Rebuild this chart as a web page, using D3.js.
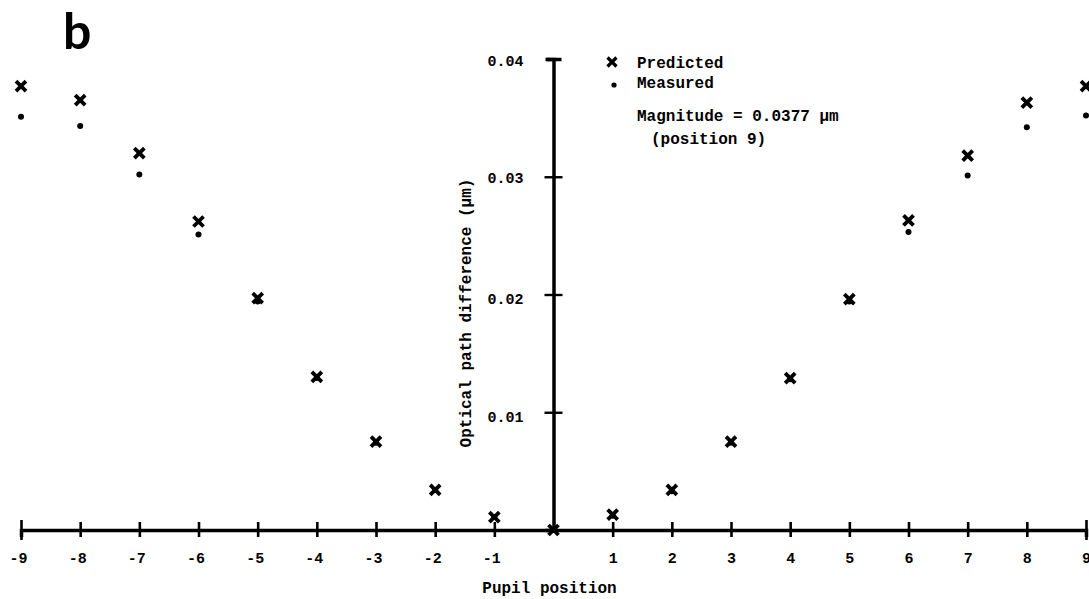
<!DOCTYPE html>
<html>
<head>
<meta charset="utf-8">
<script src="https://cdn.jsdelivr.net/npm/d3@7"></script>
<style>
  html, body { margin: 0; padding: 0; background: #fff; }
  svg { display: block; }
  text { font-family: "Liberation Mono", "DejaVu Sans Mono", monospace; font-weight: bold; fill: #000; }
</style>
</head>
<body>
<svg id="chart" width="1089" height="599"></svg>
<script>
// Pupil positions across the aperture
const positions = [-9, -8, -7, -6, -5, -4, -3, -2, -1, 0, 1, 2, 3, 4, 5, 6, 7, 8, 9];
// Optical path difference (µm), predicted vs measured
const predicted = [0.0377, 0.0365, 0.0320, 0.0262, 0.0197, 0.0130, 0.0075, 0.0034, 0.0011, 0,
                   0.0013, 0.0034, 0.0075, 0.0129, 0.0196, 0.0263, 0.0318, 0.0363, 0.0377];
const measured  = [0.0351, 0.0343, 0.0302, 0.0251, 0.0194, 0.0129, 0.0074, 0.0034, 0.0011, 0,
                   0.0012, 0.0033, 0.0074, 0.0128, 0.0194, 0.0253, 0.0301, 0.0342, 0.0352];
const xTickValues = [-9, -8, -7, -6, -5, -4, -3, -2, -1, 1, 2, 3, 4, 5, 6, 7, 8, 9];
const yTickValues = [0.01, 0.02, 0.03, 0.04];
const yTickLabels = ["0.01", "0.02", "0.03", "0.04"];
const seriesNames = ["Predicted", "Measured"];
const magnitudePosition = 9;

const svg = d3.select("#chart");
svg.append("rect").attr("width", 1089).attr("height", 599).attr("fill", "#fff");

const x = d3.scaleLinear().domain([-9, 9]).range([21, 1086]);
const y = d3.scaleLinear().domain([0, 0.04]).range([530, 59]);

// Panel letter
svg.append("text")
  .attr("x", 63).attr("y", 49)
  .style("font-family", "Lato, 'Open Sans', sans-serif")
  .style("font-weight", "bold")
  .style("font-size", "50px")
  .text("b");

// Horizontal axis
const xAxis = d3.axisBottom(x)
  .tickValues(xTickValues)
  .tickFormat(d => d)
  .tickSizeOuter(0)
  .tickSize(7);
const gx = svg.append("g").attr("transform", `translate(0,${y(0)})`).call(xAxis);
gx.select(".domain").attr("stroke", "#000").attr("stroke-width", 3.5);
gx.selectAll(".tick line")
  .attr("stroke", "#000")
  .attr("stroke-width", 2.6)
  .attr("y1", d => Math.abs(d) === 9 ? -10 : -8)
  .attr("y2", d => Math.abs(d) === 9 ? 10 : 7);
gx.selectAll(".tick text")
  .attr("dy", 0)
  .attr("y", 33)
  .attr("dx", d => d < 0 ? -3 : 0)
  .style("font-size", "15px")
  .style("font-family", "'Liberation Mono', monospace")
  .style("font-weight", "bold")
  .attr("fill", "#000");

// Vertical axis through the pupil centre
const yAxis = d3.axisLeft(y)
  .tickValues(yTickValues)
  .tickFormat((d, i) => yTickLabels[i])
  .tickSizeOuter(0)
  .tickSize(8);
const gy = svg.append("g").attr("transform", `translate(${x(0)},0)`).call(yAxis);
gy.select(".domain").attr("stroke", "#000").attr("stroke-width", 3.5);
gy.selectAll(".tick line")
  .attr("stroke", "#000")
  .attr("stroke-width", d => d === 0.04 ? 3.5 : 2.4)
  .attr("x1", d => d === 0.04 ? -7 : -9)
  .attr("x2", d => d === 0.04 ? 8 : 9);
gy.selectAll(".tick text")
  .attr("dy", 0)
  .attr("x", -30)
  .attr("y", d => d >= 0.03 ? 6 : 9)
  .style("font-size", "15px")
  .style("font-family", "'Liberation Mono', monospace")
  .style("font-weight", "bold")
  .attr("fill", "#000");

// Axis titles
svg.append("text")
  .attr("x", x(0) - 4).attr("y", 593)
  .attr("text-anchor", "middle")
  .style("font-size", "16px")
  .text("Pupil position");

svg.append("text")
  .attr("transform", `translate(471,${313}) rotate(-90)`)
  .attr("text-anchor", "middle")
  .style("font-size", "16px")
  .text("Optical path difference (\u00b5m)");

// Markers
const crossPath = "M-5,-5L5,5M-5,5L5,-5";
const pts = positions.map((p, i) => ({ p, pred: predicted[i], meas: measured[i] }));

svg.append("g").selectAll("circle")
  .data(pts)
  .join("circle")
  .attr("cx", d => x(d.p))
  .attr("cy", d => y(d.meas))
  .attr("r", 3)
  .attr("fill", "#000");

svg.append("g").selectAll("path")
  .data(pts)
  .join("path")
  .attr("transform", d => `translate(${x(d.p)},${y(d.pred)})`)
  .attr("d", crossPath)
  .attr("stroke", "#000")
  .attr("stroke-width", 3.8)
  .attr("fill", "none");

// Legend
const leg = svg.append("g");
leg.append("path")
  .attr("transform", "translate(612,62)")
  .attr("d", "M-4.5,-4.5L4.5,4.5M-4.5,4.5L4.5,-4.5")
  .attr("stroke", "#000").attr("stroke-width", 3.2).attr("fill", "none");
leg.append("circle").attr("cx", 614).attr("cy", 85).attr("r", 2.6).attr("fill", "#000");
leg.append("text").attr("x", 637).attr("y", 68).style("font-size", "16px").text(seriesNames[0]);
leg.append("text").attr("x", 637).attr("y", 88).style("font-size", "16px").text(seriesNames[1]);

const magValue = predicted[positions.indexOf(magnitudePosition)];
leg.append("text").attr("x", 637).attr("y", 121).style("font-size", "16px")
  .text(`Magnitude = ${d3.format(".4f")(magValue)} \u00b5m`);
leg.append("text").attr("x", 651).attr("y", 144).style("font-size", "16px")
  .text(`(position ${magnitudePosition})`);
</script>
</body>
</html>
